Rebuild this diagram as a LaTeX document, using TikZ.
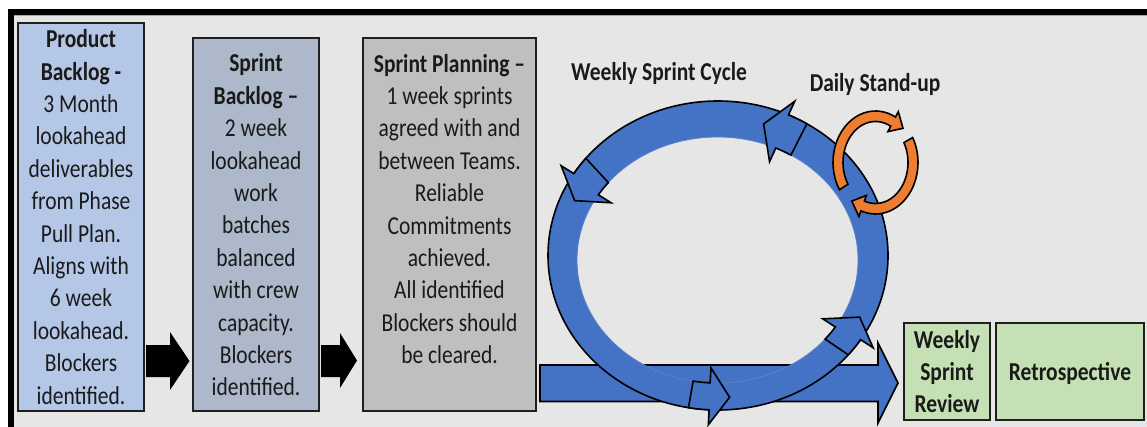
\documentclass[tikz,border=0pt]{standalone}
\usepackage{fontspec}
\setmainfont{Carlito}
\definecolor{bgc}{HTML}{E7E6E6}
\definecolor{pbc}{HTML}{B4C7E7}
\definecolor{sbc}{HTML}{ADB9CA}
\definecolor{spc}{HTML}{BFBFBF}
\definecolor{grc}{HTML}{C5E0B4}
\definecolor{blu}{HTML}{4472C4}
\definecolor{org}{HTML}{ED7D31}
\definecolor{txc}{HTML}{1A1A1A}
\definecolor{edgec}{HTML}{1F1F1F}
\newcommand\vs[1]{\scalebox{1}[1.2]{\begin{tabular}{@{}c@{}}#1\end{tabular}}}
\begin{document}
\begin{tikzpicture}[x=1pt,y=-1pt,
  box/.style={draw=edgec, line width=2pt, rectangle, inner sep=0pt},
  txt/.style={inner sep=0pt, yshift=-2.5pt, text=txc, font=\fontsize{21.5}{27}\selectfont},
  ringpart/.style={fill=blu, draw=black, line width=1.6pt, line join=miter},
  orng/.style={fill=org, draw=black, line width=1.6pt, line join=miter}]
\useasboundingbox (0,0) rectangle (1147,427);
\clip (0,0) rectangle (1147,427);
\fill[white] (0,0) rectangle (1147,427);
\filldraw[fill=bgc, draw=black, line width=6pt] (10.5,12) rectangle (1160,440);
\draw[black!35, line width=1.2pt] (13.5,15.8) -- (1147,15.8);
% boxes
\node[box, fill=pbc, minimum width=126pt, minimum height=388pt] (pb) at (81,217) {};
\node[box, fill=sbc, minimum width=126pt, minimum height=373pt] (sb) at (256,224.5) {};
\node[box, fill=spc, minimum width=173pt, minimum height=373pt] (sp) at (449.5,224.5) {};
\node[box, fill=grc, minimum width=86pt, minimum height=97pt] (wsr) at (947,371.5) {};
\node[box, fill=grc, minimum width=148pt, minimum height=97pt] (retro) at (1070,371.5) {};
% black block arrows
\fill[black] (146,345) -- (170,345) -- (170,332) -- (189.5,361) -- (170,390) -- (170,377) -- (146,377) -- cycle;
\fill[black] (321,345) -- (340,345) -- (340,333) -- (357,360.5) -- (340,388) -- (340,377) -- (321,377) -- cycle;
% horizontal blue arrow
\filldraw[ringpart] (540,365) -- (878,365) -- (878,343) -- (898,383) -- (878,423) -- (878,401.5) -- (540,401.5) -- cycle;
% ring
\fill[blu, even odd rule] (718,255.5) ellipse [x radius=170pt, y radius=154.5pt] (717.5,260) ellipse [x radius=140.5pt, y radius=123pt];
\draw[black, line width=1.6pt] (718,255.5) ellipse [x radius=170pt, y radius=154.5pt];
\draw[blu!88!white, line width=0.8pt] (717.5,260) ellipse [x radius=140.5pt, y radius=123pt];
\foreach \ba/\fa in {260/267, 320/327, 58.5/65.5, 141/148}{
  \pgfmathsetmacro\tdx{-1.5525*sin(\fa)}
  \pgfmathsetmacro\tdy{-1.3875*cos(\fa)}
  \pgfmathsetmacro\tl{sqrt(\tdx*\tdx+\tdy*\tdy)}
  \pgfmathsetmacro\tipx{717.75+155.25*cos(\fa)+20*\tdx/\tl}
  \pgfmathsetmacro\tipy{257.75-138.75*sin(\fa)+20*\tdy/\tl}
  \filldraw[ringpart]
    ({717.5+140.5*cos(\ba)},{260-123*sin(\ba)}) --
    plot[domain=\ba:\fa, samples=8] ({718+170*cos(\x)},{255.5-154.5*sin(\x)}) --
    ({718+185*cos(\fa)},{255.5-169.5*sin(\fa)}) --
    (\tipx,\tipy) --
    ({717.5+125.5*cos(\fa)},{260-108*sin(\fa)}) --
    plot[domain=\fa:\ba, samples=8] ({717.5+140.5*cos(\x)},{260-123*sin(\x)}) -- cycle;
}
% orange daily arrows
\filldraw[orng]
  plot[domain=212:62, samples=30] ({875.5+42.5*cos(\x)},{162.5-51.5*sin(\x)}) --
  (898.3,111.7) -- (903,128.3) -- (887.9,131.6) --
  plot[domain=62:212, samples=30] ({875.5+32.5*cos(\x)},{162.5-41*sin(\x)}) -- cycle;
\filldraw[orng]
  plot[domain=29:-110, samples=30] ({875.5+42.5*cos(\x)},{162.5-51.5*sin(\x)}) --
  (858.9,216.5) -- (851.8,201.1) -- (866.4,195.4) --
  plot[domain=-110:29, samples=30] ({875.5+32.5*cos(\x)},{162.5-41*sin(\x)}) -- cycle;
% texts
\node[txt] (pbt) at (81,217) {\vs{\textbf{Product}\\ \textbf{Backlog -}\\ 3 Month\\ lookahead\\ deliverables\\ from Phase\\ Pull Plan.\\ Aligns with\\ 6 week\\ lookahead.\\ Blockers\\ identified.}};
\node[txt] (sbt) at (256,225) {\vs{\textbf{Sprint}\\ \textbf{Backlog –}\\ 2 week\\ lookahead\\ work\\ batches\\ balanced\\ with crew\\ capacity.\\ Blockers\\ identified.}};
\node[txt] (spt) at (449.5,209) {\vs{\textbf{Sprint Planning –}\\ 1 week sprints\\ agreed with and\\ between Teams.\\ Reliable\\ Commitments\\ achieved.\\ All identified\\ Blockers should\\ be cleared.}};
\node[txt] (wsrt) at (947,371.5) {\vs{\textbf{Weekly}\\ \textbf{Sprint}\\ \textbf{Review}}};
\node[txt] (retrot) at (1070,372) {\vs{\textbf{Retrospective}}};
\node[txt] (wsc) at (659,72) {\vs{\textbf{Weekly Sprint Cycle}}};
\node[txt] (dsu) at (875,83) {\vs{\textbf{Daily Stand-up}}};
\end{tikzpicture}
\end{document}
